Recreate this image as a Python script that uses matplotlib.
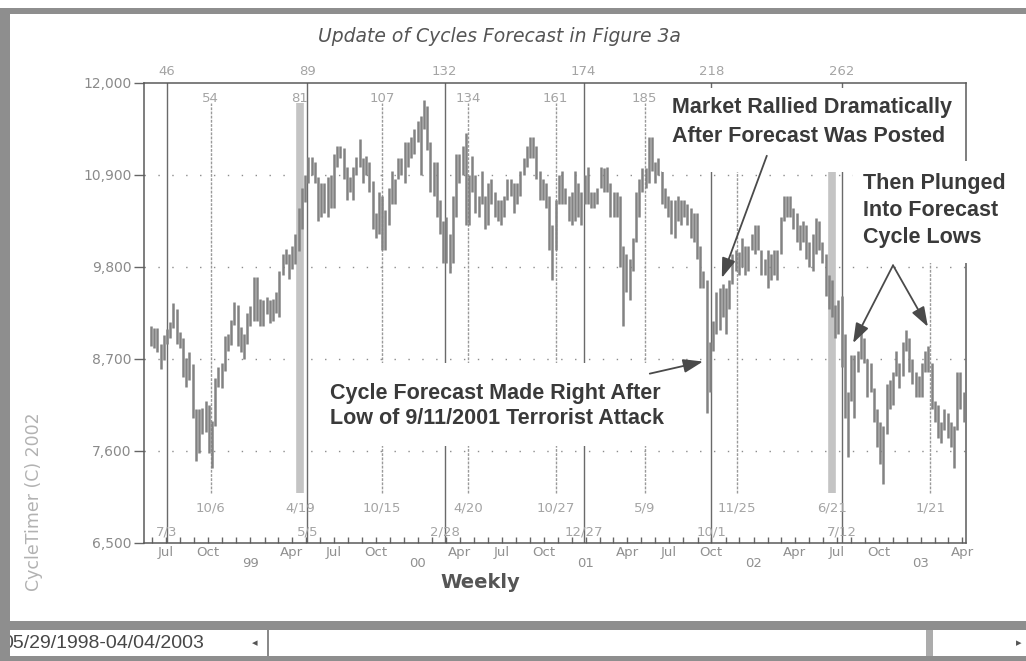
import pandas as pd
import matplotlib
matplotlib.use('Agg')
import matplotlib.pyplot as plt
import matplotlib.dates as mdates
from matplotlib.patches import Rectangle
from matplotlib.transforms import Affine2D, blended_transform_factory

# weekly bars, week ending Friday
weeks = pd.date_range('1998-05-29', '2003-04-04', freq='W-FRI')

lo_1998 = [8850, 8830, 8780, 8580, 8690, 8880, 8950, 9070, 8880, 8830, 8480, 8370, 8450, 8000,
           7480, 7580, 7800, 7830, 7580, 7400, 7900, 8360, 8350, 8560, 8800, 8870, 9110, 8850,
           8780, 8700, 8880]
hi_1998 = [9090, 9070, 9070, 8880, 8990, 9060, 9140, 9370, 9300, 9020, 8950, 8710, 8780, 8640,
           8100, 8100, 8120, 8200, 8150, 7960, 8470, 8600, 8650, 8980, 9000, 9170, 9380, 9350,
           9080, 9000, 9250]

lo_1999 = [9100, 9150, 9150, 9100, 9100, 9240, 9130, 9160, 9250, 9200, 9700, 9840, 9660, 9780,
           9830, 9990, 10250, 10580, 10800, 10900, 10800, 10350, 10400, 10450, 10400, 10500,
           10500, 11000, 11100, 10850, 10600, 10700, 10600, 10900, 11000, 10800, 10900, 10700,
           10250, 10150, 10200, 10000, 10000, 10300, 10550, 10550, 10850, 10900, 10800, 11000,
           11100, 11150, 11300]
hi_1999 = [9330, 9680, 9680, 9420, 9400, 9440, 9400, 9420, 9500, 9750, 9950, 10010, 9950, 10050,
           10200, 10500, 10750, 10900, 11120, 11110, 11060, 10880, 10800, 10800, 10880, 10900,
           11150, 11250, 11250, 11220, 11000, 10880, 11000, 11120, 11330, 11100, 11130, 11050,
           10830, 10450, 10700, 10650, 10480, 10750, 10950, 10850, 11100, 11100, 11300, 11300,
           11350, 11450, 11550]

lo_2000 = [10900, 11450, 11200, 10700, 10650, 10400, 10200, 9850, 9850, 9730, 9850, 10400, 10800,
           10900, 10300, 10300, 10700, 10450, 10400, 10550, 10250, 10300, 10550, 10400, 10350,
           10300, 10400, 10600, 10650, 10450, 10550, 10650, 10900, 11000, 11100, 11100, 10850,
           10600, 10600, 10500, 10000, 9650, 10000, 10550, 10550, 10550, 10350, 10300, 10350,
           10400, 10300, 10550]
hi_2000 = [11600, 11800, 11720, 11300, 11050, 11050, 10600, 10350, 10400, 10200, 10650, 11150,
           11150, 11250, 11400, 10900, 11130, 10900, 10650, 10950, 10650, 10800, 10850, 10700,
           10600, 10600, 10650, 10850, 10850, 10800, 10800, 10950, 11100, 11250, 11350, 11350,
           11250, 10950, 10850, 10800, 10650, 10300, 10600, 10900, 10950, 10750, 10650, 10700,
           10950, 10800, 10700, 10900]

lo_2001 = [10550, 10500, 10500, 10550, 10750, 10700, 10700, 10400, 10400, 10400, 9800, 9100,
           9500, 9400, 9750, 10100, 10400, 10700, 10750, 10800, 10950, 10800, 10900, 10550,
           10500, 10400, 10200, 10150, 10350, 10300, 10400, 10300, 10150, 10100, 9900, 9550,
           9550, 8060, 8300, 8800, 9000, 9050, 9200, 9000, 9300, 9600, 9750, 9700, 9800, 9700,
           9750, 10000]
hi_2001 = [11000, 10700, 10700, 10750, 11000, 10980, 11000, 10800, 10700, 10700, 10650, 10050,
           9950, 9900, 10150, 10700, 10850, 10980, 10980, 11350, 11350, 11050, 11100, 10950,
           10750, 10650, 10600, 10600, 10650, 10600, 10600, 10550, 10500, 10450, 10450, 10050,
           9750, 9650, 8900, 9150, 9500, 9550, 9600, 9550, 9650, 9950, 10000, 9980, 10150,
           10050, 10050, 10200]

lo_2002 = [9950, 10000, 9700, 9700, 9550, 9650, 9700, 9650, 9950, 10350, 10400, 10400, 10250,
           10100, 10000, 10100, 9900, 9800, 9750, 9950, 10000, 9850, 9450, 9300, 9200, 8950,
           9000, 8600, 8000, 7530, 8200, 8000, 8550, 8700, 8650, 8250, 8300, 7950, 7650, 7450,
           7200, 7800, 8100, 8150, 8500, 8350, 8500, 8800, 8550, 8400, 8250, 8250]
hi_2002 = [10300, 10300, 10000, 9900, 10000, 9950, 10000, 10000, 10400, 10650, 10650, 10650,
           10500, 10450, 10300, 10350, 10300, 10100, 10200, 10380, 10350, 10100, 9950, 9700,
           9650, 9350, 9400, 9450, 9000, 8300, 8750, 8750, 8800, 9100, 8950, 8700, 8650, 8350,
           8100, 7950, 7900, 8400, 8450, 8550, 8800, 8650, 8900, 9050, 8950, 8700, 8550, 8500]

lo_2003 = [8250, 8550, 8550, 8100, 7950, 7750, 7700, 7850, 7750, 7650, 7400, 7850, 8100, 7950]
hi_2003 = [8650, 8800, 8850, 8650, 8200, 8150, 7950, 8100, 8050, 7950, 7900, 8550, 8550, 8300]

lows = lo_1998 + lo_1999 + lo_2000 + lo_2001 + lo_2002 + lo_2003
highs = hi_1998 + hi_1999 + hi_2000 + hi_2001 + hi_2002 + hi_2003

price_ticks = [6500, 7600, 8700, 9800, 10900, 12000]

# long cycle (about 43 weeks)
long_dates = ['1998-07-03', '1999-05-05', '2000-02-28', '2000-12-27', '2001-10-01', '2002-07-12']
long_bars = ['46', '89', '132', '174', '218', '262']
long_labels = ['7/3', '5/5', '2/28', '12/27', '10/1', '7/12']

# half cycle (about 26 weeks)
half_dates = ['1998-10-06', '1999-04-19', '1999-10-15', '2000-04-20', '2000-10-27',
              '2001-05-09', '2001-11-25', '2002-06-21', '2003-01-21']
half_bars = ['54', '81', '107', '134', '161', '185']
half_labels = ['10/6', '4/19', '10/15', '4/20', '10/27', '5/9', '11/25', '6/21', '1/21']
wide_lines = ['1999-04-19', '2002-06-21']


def dnum(x):
    return mdates.date2num(pd.to_datetime(x).to_numpy())


W, H = 1026, 661
fig = plt.figure(figsize=(W / 100, H / 100), dpi=100, facecolor='white')
# pixel coordinates, origin top-left
px = Affine2D().scale(1 / W, -1 / H).translate(0, 1) + fig.transFigure

ax = fig.add_axes([144 / W, 1 - 543 / H, 822 / W, 460 / H])
ax.set_xlim(dnum('1998-05-14'), dnum('2003-04-09'))
ax.set_ylim(6500, 12000)

ax.vlines(dnum(weeks), lows, highs, color='#828282', lw=1.8, zorder=3)

for v in price_ticks[1:-1]:
    ax.axhline(v, color='#8c8c8c', lw=1.0, ls=(0, (1, 9)), zorder=1)

xa = blended_transform_factory(ax.transData, ax.transAxes)
small = dict(fontsize=9.5, color='#a4a4a4', ha='center', va='center', transform=xa)

for i, day in enumerate(half_dates):
    x = dnum(day)
    if day in wide_lines:
        ax.plot([x, x], [0.109, 0.957], transform=xa, color='#c4c4c4', lw=5.5, zorder=2,
                solid_capstyle='butt')
    else:
        ax.plot([x, x], [0.109, 0.957], transform=xa, color='#9a9a9a', lw=1.0,
                ls=(0, (2, 1)), zorder=2)
    if i < len(half_bars):
        ax.text(x, 0.967, half_bars[i], **small)
    ax.text(x, 0.076, half_labels[i], **small)

for day, bar, lab in zip(long_dates, long_bars, long_labels):
    x = dnum(day)
    ax.axvline(x, color='#6a6a6a', lw=1.0, zorder=2)
    ax.text(x, 1.024, bar, clip_on=False, **small)
    ax.text(x, 0.024, lab, **small)

# axes frame and ticks
for s in ax.spines.values():
    s.set_color('#5a5a5a')
    s.set_linewidth(1.1)
ax.set_yticks(price_ticks)
ax.set_yticklabels([f'{v:,}' for v in price_ticks])
ax.tick_params(axis='y', direction='out', length=7, width=1, color='#666666',
               labelcolor='#8a8a8a', labelsize=10, pad=2)
ax.xaxis.set_major_locator(plt.NullLocator())
ax.xaxis.set_minor_locator(mdates.MonthLocator())
ax.tick_params(axis='x', which='minor', direction='in', length=4, width=1, color='#666666',
               labelbottom=False)

for q in pd.date_range('1998-07-01', '2003-04-01', freq='QS-JAN'):
    if q.month == 1:
        ax.text(dnum(q), -0.044, q.strftime('%y'), transform=xa, ha='center', va='center',
                fontsize=9.5, color='#909090')
    else:
        ax.text(dnum(q), -0.020, q.strftime('%b'), transform=xa, ha='center', va='center',
                fontsize=9.5, color='#909090')

# titles
ax.text(499, 37, 'Update of Cycles Forecast in Figure 3a', transform=px, ha='center',
        va='center', style='italic', fontsize=13.5, color='#555555')
ax.text(480, 583, 'Weekly', transform=px, ha='center', va='center', fontsize=14,
        fontweight='bold', color='#555555')
ax.text(34, 502, 'CycleTimer (C) 2002', transform=px, ha='center', va='center', rotation=90,
        fontsize=12.5, color='#b2b2b2')

# call-outs
note = dict(transform=px, ha='left', va='center', fontsize=15.5, fontweight='bold',
            family='Liberation Sans', color='#3a3a3a', zorder=6, clip_on=False)
for (x0, y0, w, h) in [(662, 88, 300, 84), (853, 161, 173, 102), (315, 363, 385, 83)]:
    ax.add_patch(Rectangle((x0, y0), w, h, transform=px, facecolor='white', edgecolor='none',
                           zorder=5, clip_on=False))
for y0, line in zip([108, 137], ['Market Rallied Dramatically', 'After Forecast Was Posted']):
    ax.text(672, y0, line, **note)
for y0, line in zip([183, 210, 237], ['Then Plunged', 'Into Forecast', 'Cycle Lows']):
    ax.text(863, y0, line, **note)
for y0, line in zip([393, 418], ['Cycle Forecast Made Right After',
                                 'Low of 9/11/2001 Terrorist Attack']):
    ax.text(330, y0, line, **note)

arrow = dict(arrowstyle='-|>,head_length=0.8,head_width=0.28', color='#4a4a4a', lw=1.3,
             mutation_scale=15, shrinkA=0, shrinkB=0)
ax.annotate('', xy=(dnum('2001-10-24'), 9670), xytext=(dnum('2002-01-30'), 11130),
            arrowprops=arrow, zorder=7, annotation_clip=False)
ax.annotate('', xy=(dnum('2001-09-13'), 8670), xytext=(dnum('2001-05-20'), 8525),
            arrowprops=arrow, zorder=7, annotation_clip=False)
ax.annotate('', xy=(dnum('2002-08-06'), 8890), xytext=(dnum('2002-11-01'), 9820),
            arrowprops=arrow, zorder=7, annotation_clip=False)
ax.annotate('', xy=(dnum('2003-01-16'), 9085), xytext=(dnum('2002-11-01'), 9820),
            arrowprops=arrow, zorder=7, annotation_clip=False)

# window frame and date strip
band = '#8e8e8e'
for (x0, y0, w, h, c) in [(4, 8, 1022, 6, band), (0, 621, 1026, 9, band),
                          (0, 656, 1026, 5, band), (267, 630, 2, 26, '#8a8a8a'),
                          (926, 630, 7, 26, '#acacac')]:
    fig.add_artist(Rectangle((x0, y0), w, h, transform=px, facecolor=c, edgecolor='none',
                             zorder=4))
fig.text(2, 643, '05/29/1998-04/04/2003', transform=px, ha='left', va='center', fontsize=14,
         family='Liberation Sans', color='#474747', zorder=3)
fig.add_artist(Rectangle((0, 8), 10, 653, transform=px, facecolor=band, edgecolor='none',
                         zorder=5))
fig.text(255, 643, '◂', transform=px, ha='center', va='center', fontsize=8, color='#555555')
fig.text(1019, 643, '▸', transform=px, ha='center', va='center', fontsize=8, color='#555555')

fig.savefig('out.png', dpi=100, facecolor='white')
